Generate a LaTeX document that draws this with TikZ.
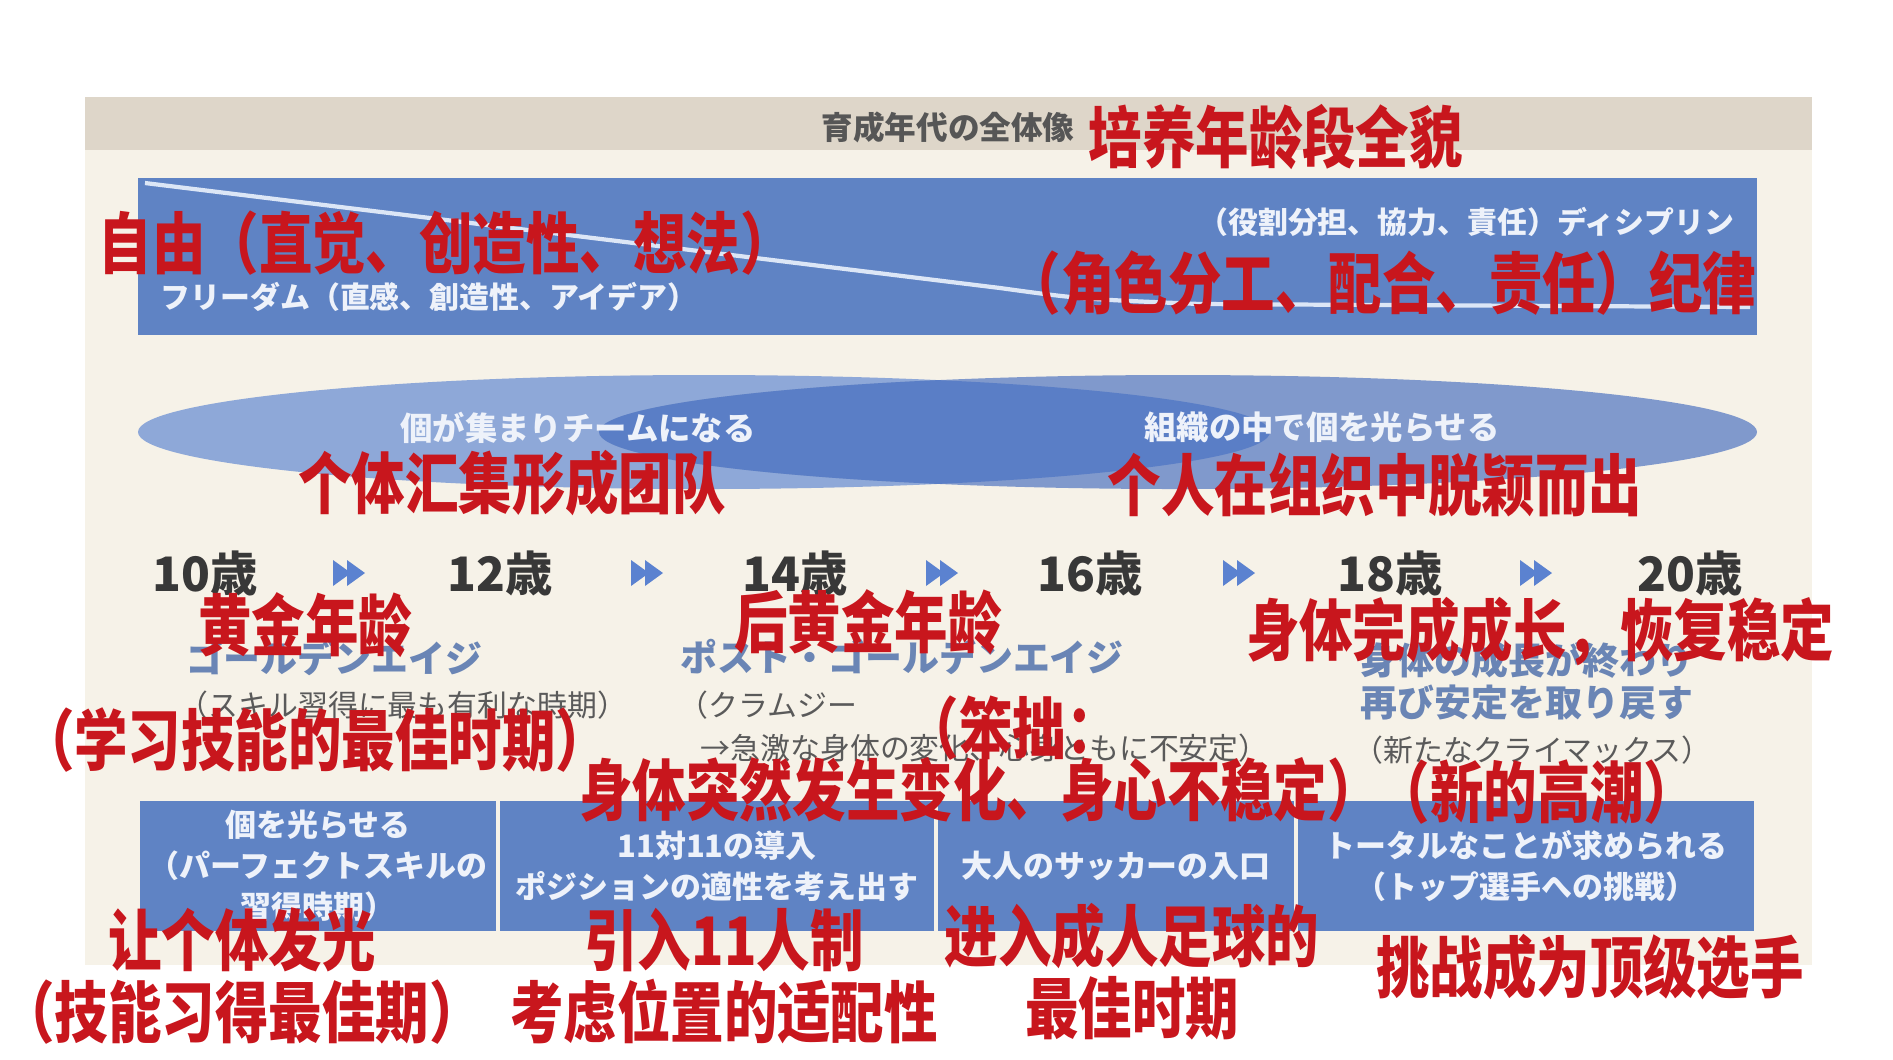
\documentclass[tikz,border=0pt]{standalone}
\usepackage{fontspec}
\newfontfamily\jpfont{Noto Sans CJK JP}
\newfontfamily\redfont[FakeStretch=0.8]{Noto Sans CJK SC}
\usetikzlibrary{shapes,positioning}
\definecolor{cream}{HTML}{F6F2E8}
\definecolor{band}{HTML}{DED6C9}
\definecolor{boxblue}{HTML}{5F83C4}
\definecolor{ellleft}{HTML}{8EA8D8}
\definecolor{ellright}{HTML}{8099CC}
\definecolor{ellmid}{HTML}{5A7EC6}
\definecolor{paleline}{HTML}{DCE6F6}
\definecolor{jpwhite}{HTML}{EEF2FA}
\definecolor{agegray}{HTML}{383838}
\definecolor{arrowblue}{HTML}{5B82D0}
\definecolor{titleblue}{HTML}{6A85B5}
\definecolor{subgray}{HTML}{5A5A5A}
\definecolor{redlabel}{HTML}{C8161D}
\tikzset{every node/.style={inner sep=0pt}}
\tikzset{redlbl/.style={text=redlabel, align=center, font=\redfont\bfseries\fontsize{19}{20.5}\selectfont}}
\tikzset{jpwhite/.style={text=jpwhite, font=\jpfont\bfseries\fontsize{8.5}{10}\selectfont}}

\begin{document}
\begin{tikzpicture}[x=0.01cm, y=-0.01cm]
  \tikzstyle{agelbl}=[text=agegray, font=\jpfont\bfseries\fontsize{13.5}{15}\selectfont]
  \tikzstyle{phase}=[text=titleblue, font=\jpfont\bfseries\fontsize{10.5}{12.5}\selectfont, anchor=west]
  \tikzstyle{phasesub}=[text=subgray, font=\jpfont\fontsize{8.5}{10}\selectfont, anchor=west]
  \tikzstyle{stagebox}=[fill=boxblue, text=jpwhite, align=center, minimum height=1.3cm,
      font=\jpfont\bfseries\fontsize{8.8}{11.6}\selectfont]
    \useasboundingbox (0,0) rectangle (1893,1059);
    \fill[white] (0,0) rectangle (1893,1059);
    % panel and header
    \fill[cream] (85,97) rectangle (1812,965);
    \fill[band] (85,97) rectangle (1812,150);
    \node(title) at (948,127) [text=agegray!85, font=\jpfont\bfseries\fontsize{9}{10}\selectfont] {育成年代の全体像};

    % freedom / discipline
    \fill[boxblue] (138,178) rectangle (1757,335);
    \draw[paleline, line width=1.2pt] (145,183) -- (1000,288) .. controls (1080,299) .. (1200,304) -- (1750,307);
    \node(freedom) at (160,297) [jpwhite, anchor=west] {フリーダム（直感、創造性、アイデア）};
    \node(discipline) at (1735,222) [jpwhite, anchor=east] {（役割分担、協力、責任）ディシプリン};

    % team / organisation
    \fill[ellleft] (704,432) ellipse [x radius=566, y radius=57];
    \fill[ellright] (1178,432) ellipse [x radius=579, y radius=57];
    \begin{scope}
      \clip (704,432) ellipse [x radius=566, y radius=57];
      \fill[ellmid] (1178,432) ellipse [x radius=579, y radius=57];
    \end{scope}
    \node(team) at (578,428) [jpwhite, font=\jpfont\bfseries\fontsize{9.2}{11}\selectfont] {個が集まりチームになる};
    \node(org) at (1322,427) [jpwhite, font=\jpfont\bfseries\fontsize{9.2}{11}\selectfont] {組織の中で個を光らせる};

    % ages
    \foreach \n/\cx in {10/205, 12/500, 14/795, 16/1090, 18/1390, 20/1690}
      \node(age\n) at (\cx,573) [agelbl] {\n 歳};
    \foreach \ax in {350, 648, 943, 1240, 1537} {
      \fill[arrowblue] (\ax-17,560) -- (\ax+1,573) -- (\ax-17,586) -- cycle;
      \fill[arrowblue] (\ax-3,560) -- (\ax+15,573) -- (\ax-3,586) -- cycle;
    }

    % phases
    \node(golden) at (186,658) [phase] {ゴールデンエイジ};
    \node(goldensub) at (178,705) [phasesub] {（スキル習得に最も有利な時期）};
    \node(post) at (680,657) [phase] {ポスト・ゴールデンエイジ};
    \node(postsub) at (678,705) [phasesub] {（クラムジー};
    \node(postsub2) at (700,748) [phasesub] {→急激な身体の変化、心身ともに不安定）};
    \node(done) at (1360,660) [phase] {身体の成長が終わり};
    \node(done2) at (1360,703) [phase] {再び安定を取り戻す};
    \node(donesub) at (1353,750) [phasesub] {（新たなクライマックス）};

    % stages
    \node(stage1) at (318,866) [stagebox, minimum width=3.56cm] {個を光らせる\\（パーフェクトスキルの\\習得時期）};
    \node(stage2) at (717,866) [stagebox, minimum width=4.33cm] {11対11の導入\\ポジションの適性を考え出す};
    \node(stage3) at (1116,866) [stagebox, minimum width=3.56cm] {大人のサッカーの入口};
    \node(stage4) at (1526,866) [stagebox, minimum width=4.56cm] {トータルなことが求められる\\（トップ選手への挑戦）};

    % translations
    \node(titlecn) at (1088,137) [redlbl, anchor=west] {培养年龄段全貌};
    \node(freedomcn) at (98,243) [redlbl, anchor=west] {自由（直觉、创造性、想法）};
    \node(disciplinecn) at (1757,283) [redlbl, anchor=east] {（角色分工、配合、责任）纪律};
    \node(teamcn) at (512,483) [redlbl] {个体汇集形成团队};
    \node(orgcn) at (1375,485) [redlbl] {个人在组织中脱颖而出};
    \node(goldencn) at (305,625) [redlbl] {黄金年龄};
    \node(goldensubcn) at (315,740) [redlbl] {（学习技能的最佳时期）};
    \node(postcn) at (868,622) [redlbl] {后黄金年龄};
    \node(clumsycn) at (905,728) [redlbl, anchor=west] {（笨拙：};
    \node(changecn) at (980,790) [redlbl] {身体突然发生变化、身心不稳定）};
    \node(climaxcn) at (1537,792) [redlbl] {（新的高潮）};
    \node(donecn) at (1540,632) [redlbl] {身体完成成长，恢复稳定};
    \node(stage1cn) at (242,976) [redlbl] {让个体发光\\（技能习得最佳期）};
    \node(stage2cn) at (724,976) [redlbl] {引入11人制\\考虑位置的适配性};
    \node(stage3cn) at (1132,972) [redlbl] {进入成人足球的\\最佳时期};
    \node(stage4cn) at (1590,967) [redlbl] {挑战成为顶级选手};

  \end{tikzpicture}
\end{document}
